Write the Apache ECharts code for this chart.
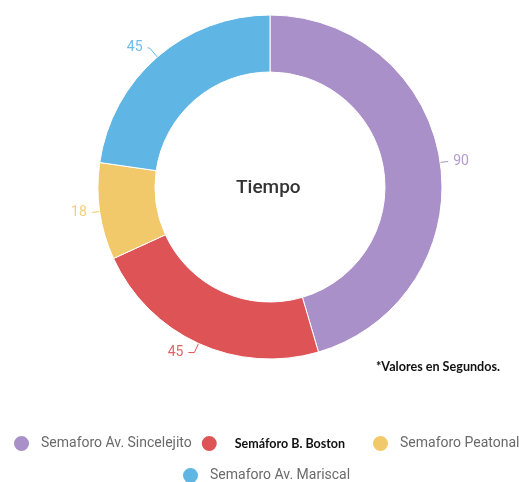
<!DOCTYPE html>
<html>
	<head>
		<meta charset="utf-8">
		<title>Tiempo</title>
		<script type="text/javascript" src="https://cdn.jsdelivr.net/npm/echarts@6/dist/echarts.min.js"></script>
		<style>
			html, body { margin: 0; padding: 0; background: #FFFFFF; }
			#chart { width: 519px; height: 482px; }
		</style>
	</head>
	<body>
		<div id="chart"></div>
		<script type="text/javascript">
			// datos del grafico
			var semaforos = ['Semaforo Av. Sincelejito', 'Semáforo B. Boston', 'Semaforo Peatonal', 'Semaforo Av. Mariscal'];
			var segundos = [90, 45, 18, 45];
			var colores = ['#AA90C8', '#DD5356', '#F1C96A', '#5FB5E4'];

			var datos = [];
			for (var i = 0; i < semaforos.length; i++) {
				datos.push({
					name: semaforos[i],
					value: segundos[i],
					itemStyle: { color: colores[i] },
					label: { color: colores[i] }
				});
			}
			// los 45 quedan un poco mas lejos
			datos[1].labelLine = { length: 10, length2: 6 };
			datos[3].labelLine = { length: 12, length2: 2 };

			var textoLeyenda = {
				fontFamily: 'Roboto',
				fontSize: 14,
				color: '#6A6A6A',
				padding: [0, 0, 0, 6]
			};

			// una leyenda por bloque, cada una en su sitio
			function leyenda(items, x, y) {
				return {
					data: items,
					left: x,
					top: y,
					padding: 0,
					itemGap: 8,
					itemWidth: 17,
					itemHeight: 17,
					icon: 'circle',
					textStyle: textoLeyenda
				};
			}

			var option = {
				animation: false,
				graphic: [{
					type: 'text',
					left: 236,
					top: 179,
					style: {
						text: 'Tiempo',
						fontFamily: 'Roboto',
						fontWeight: 500,
						fontSize: 19,
						fill: '#333333'
					}
				}, {
					type: 'text',
					left: 376,
					top: 360,
					style: {
						text: '*Valores en Segundos.',
						fontFamily: 'Lato',
						fontWeight: 'bold',
						fontSize: 12.6,
						fill: '#111111'
					}
				}],
				legend: [
					leyenda([
						{ name: semaforos[0] },
						{ name: semaforos[1], textStyle: { fontFamily: 'Lato', fontWeight: 'bold', fontSize: 12.5, color: '#111111', padding: [0, 0, 0, 12] } }
					], 12, 434),
					leyenda([semaforos[2]], 371, 434),
					leyenda([semaforos[3]], 181, 466)
				],
				series: [{
					type: 'pie',
					center: [270, 187],
					radius: [115, 172],
					startAngle: 90,
					clockwise: true,
					data: datos,
					itemStyle: {
						borderColor: '#FFFFFF',
						borderWidth: 1
					},
					label: {
						show: true,
						position: 'outside',
						formatter: '{c}',
						fontFamily: 'Roboto',
						fontSize: 14,
						opacity: 0.9
					},
					labelLine: {
						show: true,
						length: 6,
						length2: 2,
						lineStyle: { width: 1 }
					}
				}]
			};

			var grafico = echarts.init(document.getElementById('chart'));
			grafico.setOption(option);
		</script>
	</body>
</html>
